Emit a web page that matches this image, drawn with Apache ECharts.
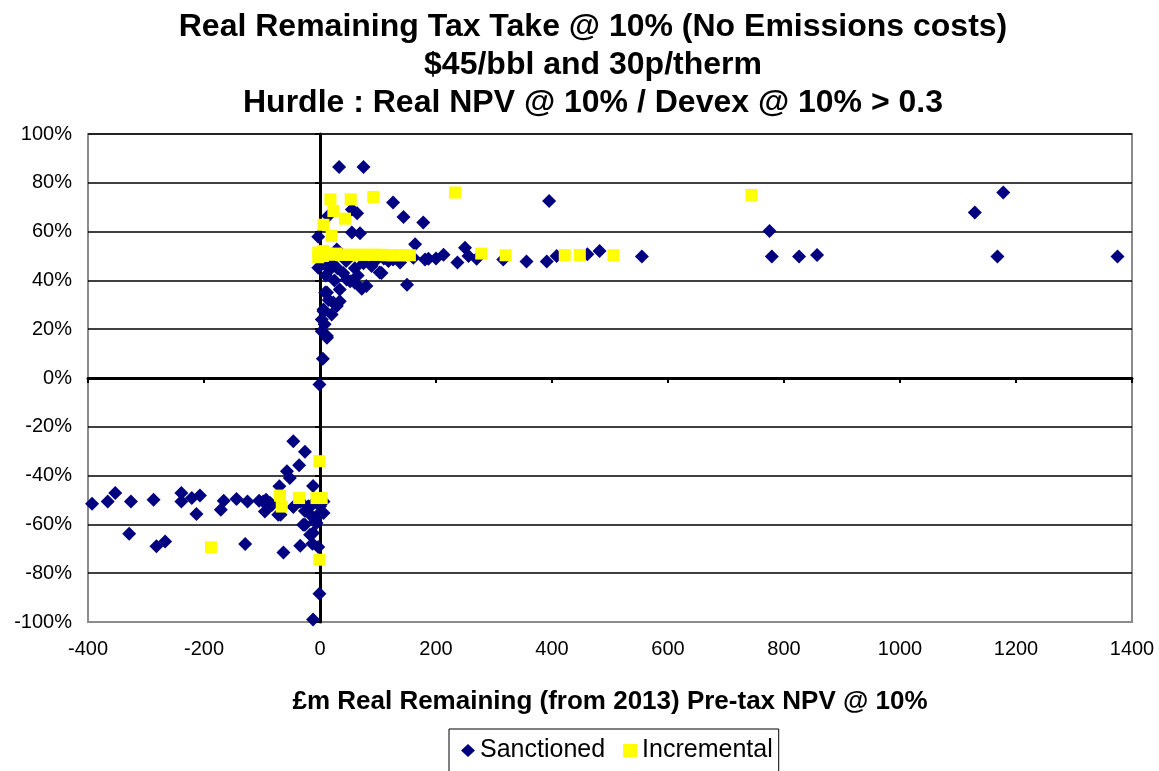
<!DOCTYPE html>
<html><head><meta charset="utf-8">
<script src="https://cdn.jsdelivr.net/npm/echarts@6/dist/echarts.min.js"></script>
<style>html,body{margin:0;padding:0;background:#fff}#c{width:1159px;height:771px}</style>
</head><body><div id="c"></div>
<script>
const titleLines = [
  'Real Remaining Tax Take @ 10% (No Emissions costs)',
  '$45/bbl and 30p/therm',
  'Hurdle : Real NPV @ 10% / Devex @ 10% > 0.3'
];
const xAxisTitle = '£m Real Remaining (from 2013) Pre-tax NPV @ 10%';
const seriesNames = ['Sanctioned', 'Incremental'];
const xRange = [-400, 1400, 200];
const yRange = [-100, 100, 20];

const sanctioned = [
  [-393,-51.5],[-366,-50.6],[-353,-47.1],[-329,-63.8],[-326,-50.6],[-287,-49.9],[-282,-69],[-267,-67],
  [-239,-47.1],[-239,-50.6],[-221,-49.2],[-207,-48.2],[-213,-55.7],[-171,-54],[-166,-50.3],[-144,-49.6],
  [-129,-68],[-125,-50.6],[-105,-50.3],[-93,-49.9],[-95,-54.7],[-86,-51.2],[-98,-50.6],[-83,-52],
  [-72,-56],[-70,-44.4],[-57,-38.2],[-52,-41],[-46,-25.9],[-36,-35.8],[-26,-30.2],[-63,-71.5],
  [-68,-56],[-34,-68.7],[-26,-60.1],[-17,-64.2],[-13,-67.9],[-12,-44.3],[-3,-69.3],[-1,-88.4],
  [-12,-99],[-26,-54.5],[-14,-56.7],[-6,-56.7],[6,-55.3],[-9,-58.8],[-6,-59.4],[-20,-52.6],
  [-46,-52.9],[-34,-50.6],[-14,-52],[0,-52.6],[6,-50.6],[-12,-63.5],[-29,-60.1],
  [33,86.5],[75,86.5],[126,71.9],[144,66],[178,63.7],[395,72.5],[775,60.2],[1129,67.8],[1178,76],
  [14,66.4],[55,69.1],[64,67.5],[55,59.6],[69,59.3],[-3,57.9],[164,54.8],[29,52.7],
  [555,49.8],[779,49.8],[826,49.8],[857,50.4],[1168,49.8],[1375,49.8],
  [126,48.6],[187,48.9],[213,50.5],[237,47.3],[250,53.4],[256,50],[270,48.9],[316,48.6],
  [356,47.7],[391,47.7],[408,50],[461,50.7],[482,52],[150,38.2],
  [-3,45.2],[17,44.5],[89,45.9],[106,43],[72,36.6],[52,39.7],[34,36.3],[23,30.9],[9,35],
  [6,27.4],[3,24],[3,19.2],[12,16.5],[5,7.9],[-1,-2.7],[46,40.4],[60,39],[118,47.9],[138,47.3],
  [161,49.3],[181,48.6],[29,29.5],[80,37.7],[12,35],[34,31.5],[6,28.1],[12,17.2],[103,43.2],
  [5,47],[10,42],[20,47],[25,40],[30,45],[40,43],[45,48],[60,45],[65,42],[75,47],[95,48],
  [110,49],[200,49],[15,32],[20,26],[8,22],[10,50],[40,50],[70,50],[100,50],[130,50]
];

const incremental = [
  [-3,51.4],[-3,49.5],[5,52],[5,50],[12,51],[20,50.5],[28,51],[36,50.5],[45,50.5],[55,50.5],
  [65,50.5],[75,50.5],[85,50.5],[95,50.5],[105,50.5],[115,50.3],[125,50.3],[135,50.3],[145,50.3],
  [155,50.3],[6,62.8],[20,58.3],[23,68.4],[43,65.3],[18,73.2],[53,73.2],[92,74.2],[233,76],
  [744,75],[278,51],[320,50.3],[422,50.4],[448,50.4],[506,50.3],
  [-188,-69.4],[-69,-48.2],[-66,-52.7],[-36,-49.2],[-6,-49.2],[3,-49.2],[-1,-34.1],[-1,-74.5]
];

const FONT = '"Liberation Sans", Arial, sans-serif';
const chart = echarts.init(document.getElementById('c'), null, {renderer: 'canvas'});

const axisBase = {min: xRange[0], max: xRange[1], interval: xRange[2]};
const yBase = {min: yRange[0], max: yRange[1], interval: yRange[2]};

chart.setOption({
  animation: false,
  backgroundColor: '#fff',
  graphic: titleLines.map((t, i) => ({
    type: 'text', x: 593, y: [27, 65, 103][i], z: 10,
    style: {text: t, fill: '#000', font: 'bold 32px ' + FONT, align: 'center', verticalAlign: 'middle'}
  })),
  grid: {left: 88, right: 27, top: 134, bottom: 149, show: true, borderColor: '#8c8c8c', borderWidth: 2, backgroundColor: '#fff'},
  legend: {
    left: 449, top: 729, padding: [9, 6, 20, 12], itemGap: 18,
    itemWidth: 14, itemHeight: 13,
    borderColor: '#000', borderWidth: 1,
    textStyle: {fontSize: 25, fontFamily: FONT, color: '#000'},
    data: seriesNames
  },
  xAxis: [
    Object.assign({
      type: 'value', position: 'bottom',
      axisLine: {show: false, onZero: false}, axisTick: {show: false}, splitLine: {show: false},
      axisLabel: {fontSize: 20, fontFamily: FONT, color: '#000', margin: 17, formatter: v => String(v)},
      name: xAxisTitle, nameLocation: 'middle', nameGap: 67,
      nameTextStyle: {fontSize: 26, fontWeight: 'bold', fontFamily: FONT, color: '#000'}
    }, axisBase),
    Object.assign({
      type: 'value', position: 'bottom',
      axisLine: {show: true, onZero: true, lineStyle: {color: '#000', width: 3}},
      axisTick: {show: true, length: 5, lineStyle: {color: '#000', width: 2}},
      axisLabel: {show: false}, splitLine: {show: false}
    }, axisBase)
  ],
  yAxis: [
    Object.assign({
      type: 'value', position: 'left',
      axisLine: {show: false, onZero: false}, axisTick: {show: false},
      axisLabel: {fontSize: 20, fontFamily: FONT, color: '#000', margin: 16, formatter: '{value}%'},
      splitLine: {show: true, showMinLine: false, lineStyle: {color: '#000', width: 1.5}}
    }, yBase),
    Object.assign({
      type: 'value', position: 'left',
      axisLine: {show: true, onZero: true, lineStyle: {color: '#000', width: 3}},
      axisTick: {show: true, length: 5, lineStyle: {color: '#000', width: 2}},
      axisLabel: {show: false}, splitLine: {show: false}
    }, yBase)
  ],
  series: [
    {name: seriesNames[0], type: 'scatter', xAxisIndex: 0, yAxisIndex: 0, symbol: 'diamond', symbolSize: 14,
     itemStyle: {color: '#000080', opacity: 1}, data: sanctioned, z: 3},
    {name: seriesNames[1], type: 'scatter', xAxisIndex: 0, yAxisIndex: 0, symbol: 'rect', symbolSize: 12,
     itemStyle: {color: '#ffff00', opacity: 1}, data: incremental, z: 4}
  ]
});
</script></body></html>
